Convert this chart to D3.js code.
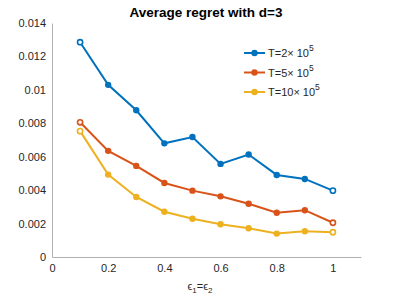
<!DOCTYPE html>
<html>
<head>
<meta charset="utf-8">
<script src="https://cdn.jsdelivr.net/npm/d3@7"></script>
<style>
  body { margin: 0; background: #fff; }
  text { font-family: "Liberation Sans", Arial, sans-serif; }
</style>
</head>
<body>
<div id="chart"></div>
<script>
// data
let epsilons = [0.1, 0.2, 0.3, 0.4, 0.5, 0.6, 0.7, 0.8, 0.9, 1.0];
let regretT2 = [0.01285, 0.0103, 0.00878, 0.0068, 0.00718, 0.00557, 0.00613, 0.00491, 0.00467, 0.00397];
let regretT5 = [0.00806, 0.00635, 0.00545, 0.00443, 0.00397, 0.00363, 0.00319, 0.00265, 0.0028, 0.00205];
let regretT10 = [0.00753, 0.00493, 0.00359, 0.00271, 0.00229, 0.00196, 0.00172, 0.0014, 0.00154, 0.00148];
let seriesNames = ["T=2", "T=5", "T=10"];
let xTicks = [0, 0.2, 0.4, 0.6, 0.8, 1];
let yTicks = [0, 0.002, 0.004, 0.006, 0.008, 0.01, 0.012, 0.014];
let colors = ["#0072BD", "#D95319", "#EDB120"];

let series = [regretT2, regretT5, regretT10];

let W = 399, H = 299;
let margin = {top: 23, left: 52, bottom: 42, right: 38};
let width = W - margin.left - margin.right;
let height = H - margin.top - margin.bottom;

let xScale = d3.scaleLinear().domain([0, 1.1]).range([0, width]);
let yScale = d3.scaleLinear().domain([0, 0.014]).range([height, 0]);

let svg = d3.select("#chart").append("svg")
    .attr("width", W)
    .attr("height", H)
  .append("g")
    .attr("transform", `translate(${margin.left}, ${margin.top})`);

// axes
let xAxis = d3.axisBottom(xScale).tickValues(xTicks).tickSize(0).tickPadding(6)
    .tickFormat(d => d3.format("")(d));
let yAxis = d3.axisLeft(yScale).tickValues(yTicks).tickSize(0).tickPadding(6)
    .tickFormat(d => d === 0 ? "0" : d3.format("")(+d.toFixed(3)));

let gx = svg.append("g")
    .attr("transform", `translate(0, ${height})`)
    .call(xAxis);
let gy = svg.append("g").call(yAxis);

[gx, gy].forEach(g => {
  g.select(".domain").attr("stroke", "#b0b0b0").attr("stroke-width", 1);
  g.selectAll("text").attr("fill", "#262626").attr("font-size", "11px")
    .style("font-family", "'Liberation Sans', Arial, sans-serif");
});
gx.selectAll("text").attr("dy", "0.85em");

// lines
let line = d3.line()
    .x((d, i) => xScale(epsilons[i]))
    .y(d => yScale(d));

series.forEach((vals, k) => {
  svg.append("path")
      .datum(vals)
      .attr("fill", "none")
      .attr("stroke", colors[k])
      .attr("stroke-width", 2)
      .attr("d", line);

  svg.selectAll(".dot" + k)
      .data(vals)
    .enter().append("circle")
      .attr("cx", (d, i) => xScale(epsilons[i]))
      .attr("cy", d => yScale(d))
      .attr("r", (d, i) => (i === 0 || i === vals.length - 1) ? 2.6 : 3.2)
      .attr("fill", (d, i) => (i === 0 || i === vals.length - 1) ? "#fff" : colors[k])
      .attr("stroke", colors[k])
      .attr("stroke-width", (d, i) => (i === 0 || i === vals.length - 1) ? 1.6 : 0);
});

// title
svg.append("text")
    .attr("x", 154)
    .attr("y", -6)
    .attr("text-anchor", "middle")
    .attr("font-size", "13.5px")
    .attr("font-weight", "bold")
    .attr("fill", "#000")
    .text("Average regret with d=3");

// x label
let xl = svg.append("text")
    .attr("x", 148)
    .attr("y", height + 33)
    .attr("text-anchor", "middle")
    .attr("font-size", "11px")
    .attr("fill", "#262626");
xl.append("tspan").text("\u03f5");
xl.append("tspan").attr("font-size", "8px").attr("dy", 3).text("1");
xl.append("tspan").attr("dy", -3).text("=\u03f5");
xl.append("tspan").attr("font-size", "8px").attr("dy", 3).text("2");

// legend
let legend = svg.append("g").attr("transform", "translate(192, 30)");
seriesNames.forEach((name, k) => {
  let row = legend.append("g").attr("transform", `translate(0, ${k * 19.5})`);
  row.append("line").attr("x1", 0).attr("x2", 21).attr("y1", 0).attr("y2", 0)
      .attr("stroke", colors[k]).attr("stroke-width", 2);
  row.append("circle").attr("cx", 10.5).attr("cy", 0).attr("r", 3.2).attr("fill", colors[k]);
  let t = row.append("text").attr("x", 24).attr("y", 4)
      .attr("font-size", "11px").attr("fill", "#262626");
  t.append("tspan").text(name + "\u00d7 10");
  t.append("tspan").attr("font-size", "8.5px").attr("dy", -6).text("5");
});
</script>
</body>
</html>
